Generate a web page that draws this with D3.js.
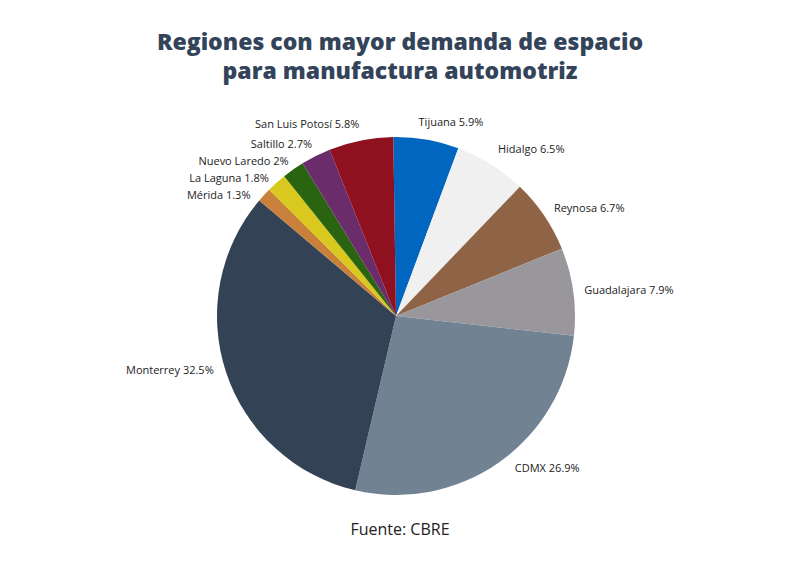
<!DOCTYPE html>
<html>
<head>
<meta charset="utf-8">
<script src="https://cdn.jsdelivr.net/npm/d3@7/dist/d3.min.js"></script>
<style>
  html, body { margin: 0; padding: 0; background: #ffffff; }
  svg { display: block; }
</style>
</head>
<body>
<svg id="chart" width="800" height="573"></svg>
<script>
const regions = ["Tijuana", "Hidalgo", "Reynosa", "Guadalajara", "CDMX", "Monterrey",
                 "Mérida", "La Laguna", "Nuevo Laredo", "Saltillo", "San Luis Potosí"];
const shares = [5.9, 6.5, 6.7, 7.9, 26.9, 32.5, 1.3, 1.8, 2, 2.7, 5.8];
const colors = ["#0066bf", "#f0f0f0", "#8f6446", "#99979c", "#718293", "#344256",
                "#c8803a", "#d9c81e", "#2a6411", "#6a2c6a", "#8f101e"];
const titleLines = ["Regiones con mayor demanda de espacio", "para manufactura automotriz"];
const sourceText = "Fuente: CBRE";
// small manual nudges of label positions (layout only), [dx, dy]
const labelNudges = [[-10, -5], [0, -4], [-1, 0], [-2, 0], [8, -5], [0, -6],
                     [-4, 9], [1, 5], [3, 2], [2, 0], [1, -4]];

const svg = d3.select("#chart");
const W = 800, H = 573;
const cx = 396, cy = 316, R = 179, labelR = 192;

svg.append("rect").attr("width", W).attr("height", H).attr("fill", "#ffffff");

// Title
svg.append("g").selectAll("text").data(titleLines).join("text")
  .attr("x", 400)
  .attr("y", (d, i) => 50 + i * 29)
  .attr("text-anchor", "middle")
  .attr("font-family", "'Open Sans', sans-serif")
  .attr("font-weight", 800)
  .attr("font-size", 23)
  .attr("fill", "#33445a")
  .text(d => d);

const data = regions.map((r, i) => ({ region: r, value: shares[i], color: colors[i], nudge: labelNudges[i] }));

const pie = d3.pie().sort(null).value(d => d.value).startAngle(-0.015).endAngle(2 * Math.PI - 0.015);
const arcs = pie(data);
const arc = d3.arc().innerRadius(0).outerRadius(R);

const g = svg.append("g").attr("transform", `translate(${cx},${cy})`);
g.selectAll("path").data(arcs).join("path")
  .attr("d", arc)
  .attr("fill", d => d.data.color);

// Labels
const lg = svg.append("g").attr("transform", `translate(${cx},${cy})`);
lg.selectAll("text").data(arcs).join("text")
  .each(function (d) {
    const a = (d.startAngle + d.endAngle) / 2;
    const x = labelR * Math.sin(a) + d.data.nudge[0], y = -labelR * Math.cos(a) + d.data.nudge[1];
    d3.select(this)
      .attr("x", x)
      .attr("y", y)
      .attr("dy", "0.35em")
      .attr("text-anchor", Math.sin(a) >= 0 ? "start" : "end");
  })
  .attr("font-family", "'Open Sans', sans-serif")
  .attr("font-size", 11)
  .attr("fill", "#222222")
  .text(d => `${d.data.region} ${d.data.value}%`);

// Source
svg.append("text")
  .attr("x", 400)
  .attr("y", 535)
  .attr("text-anchor", "middle")
  .attr("font-family", "'Open Sans', sans-serif")
  .attr("font-weight", 500)
  .attr("font-size", 16)
  .attr("fill", "#222222")
  .text(sourceText);
</script>
</body>
</html>
